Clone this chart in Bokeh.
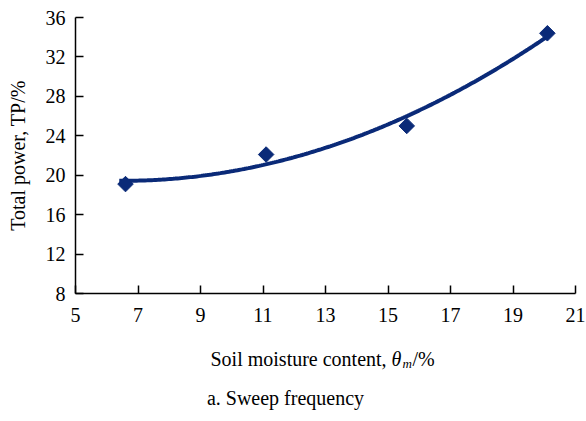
import math
import numpy as np
from bokeh.plotting import figure
from bokeh.layouts import column
from bokeh.models import FixedTicker, Range1d
from bokeh.core.properties import value
from bokeh.embed import file_html
from bokeh.resources import INLINE

# Measured points: soil moisture content vs. total power
moisture = [6.6, 11.1, 15.6, 20.1]
total_power = [19.1, 22.1, 25.0, 34.4]

x_ticks = [5, 7, 9, 11, 13, 15, 17, 19, 21]
y_ticks = [8, 12, 16, 20, 24, 28, 32, 36]

NAVY = "#0a2a78"
FONT = "Liberation Serif"
FS = "20px"
W = 586
LEFT, RIGHT = 75, 11
TOP_H = 335
BOTTOM_H = 421 - TOP_H

p = figure(width=W, height=TOP_H, output_backend="svg", toolbar_location=None,
           x_range=Range1d(5, 21), y_range=Range1d(8, 36),
           min_border_left=LEFT, min_border_right=RIGHT, min_border_top=17,
           min_border_bottom=42)
p.outline_line_color = None
p.xgrid.visible = False
p.ygrid.visible = False

for ax in (p.xaxis, p.yaxis):
    ax.axis_line_color = "black"
    ax.axis_line_width = 1.5
    ax.major_tick_line_color = "black"
    ax.major_tick_line_width = 1.5
    ax.major_tick_in = 8
    ax.major_tick_out = 0
    ax.minor_tick_line_color = None
    ax.major_label_text_font = FONT
    ax.major_label_text_font_size = FS
    ax.major_label_text_color = "black"
p.xaxis.major_label_standoff = 14
p.yaxis.major_label_standoff = 10

p.xaxis.ticker = FixedTicker(ticks=x_ticks)
p.yaxis.ticker = FixedTicker(ticks=y_ticks)

p.yaxis.axis_label = "Total power, TP/%"
p.yaxis.axis_label_text_font = FONT
p.yaxis.axis_label_text_font_size = FS
p.yaxis.axis_label_text_font_style = "normal"
p.yaxis.axis_label_text_color = "black"
p.yaxis.axis_label_standoff = 14

# Second-order polynomial trend line through the measurements
coef = np.polyfit(moisture, total_power, 2)
xs = np.linspace(min(moisture) - 0.2, max(moisture), 200)
p.line(xs, np.polyval(coef, xs), line_color=NAVY, line_width=4)

p.scatter(moisture, total_power, marker="square", angle=math.pi / 4, size=11,
          fill_color=NAVY, line_color=NAVY)

# Strip under the chart holding the x axis title and the caption;
# its frame lines up with the chart frame, so x is measured in page pixels.
cap = figure(width=W, height=BOTTOM_H, output_backend="svg", toolbar_location=None,
             x_range=Range1d(LEFT, W - RIGHT), y_range=Range1d(BOTTOM_H, 0),
             x_axis_location=None, y_axis_location=None,
             min_border_left=LEFT, min_border_right=RIGHT,
             min_border_top=0, min_border_bottom=0)
cap.outline_line_color = None
cap.xgrid.visible = False
cap.ygrid.visible = False


def put(text, x, y, size=FS, style="normal", align="left"):
    cap.text(x=[x], y=[y], text=[text], text_font=value(FONT),
             text_font_size=size, text_font_style=style, text_color="black",
             text_align=align, text_baseline="middle")


put("Soil moisture content,", 210, 23)
put("θ", 391, 23, style="italic")
put("m", 402, 28, size="13px", style="italic")
put("/%", 412, 23)
put("a. Sweep frequency", 285, 62, align="center")

open("out.html", "w").write(file_html(column(p, cap, spacing=0), INLINE))
